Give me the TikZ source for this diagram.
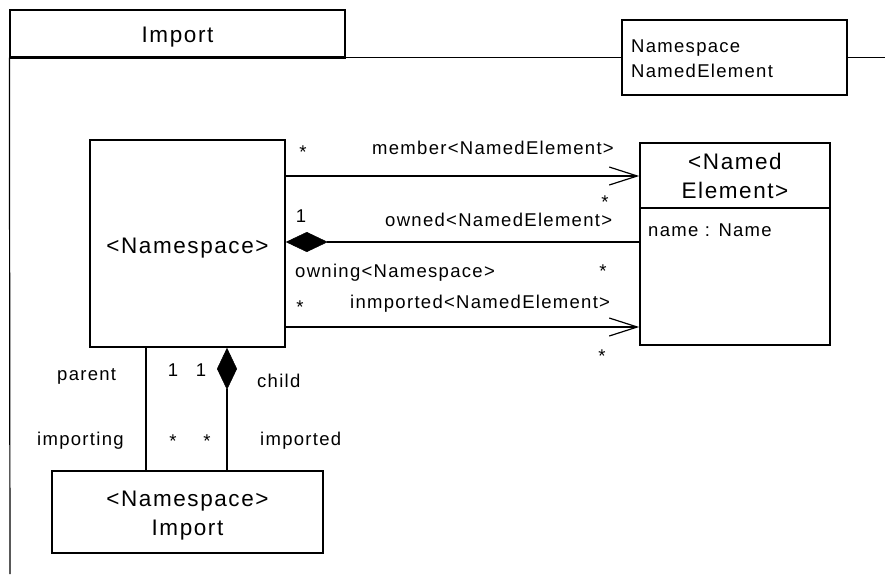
\documentclass[tikz,border=0pt]{standalone}
\usepackage{fontspec}
\setmainfont{Liberation Sans}[LetterSpace=7]
\usetikzlibrary{arrows.meta}
\begin{document}
\begin{tikzpicture}[x=1pt,y=-1pt,
  box/.style={draw, line width=1.6pt, inner sep=0pt},
  thinbox/.style={draw, line width=1.2pt, inner sep=0pt},
  conn/.style={line width=1.2pt},
  lbl/.style={inner sep=0pt, font=\fontsize{18.5}{21}\selectfont},
  big/.style={font=\fontsize{22.5}{29}\selectfont, align=center},
  barb/.style={-{Straight Barb[length=28pt,width=18pt,line width=1.2pt]}},
  comp/.style={{Diamond[length=42pt,width=20pt,fill=black,line width=0.5pt]}-}
]
\useasboundingbox (0,0) rectangle (885,574);
% frame and tab
\node[thinbox, minimum width=335pt, minimum height=47pt] (tab) at (177.5,33.5) {};
\node[big, inner sep=0pt, anchor=base] (tabtxt) at (177.5,42) {Import};
\draw[line width=2pt] (tab.south west) -- (tab.south east);
\coordinate (fb) at (10,574);
\draw[conn] (tab.south west) -- (fb);
\node[thinbox, minimum width=225pt, minimum height=75pt] (pkg) at (734.5,57.5) {};
\node[lbl, anchor=base west] (t1) at (631,52) {Namespace};
\node[lbl, anchor=base west] (t2) at (631,77) {NamedElement};
\coordinate (fr) at (885,57.5);
\draw[conn] (tab.south east |- pkg.west) -- (pkg.west);
\draw[conn] (pkg.east) -- (fr);
% classes
\node[box, minimum width=195pt, minimum height=207pt] (ns) at (187.5,243.5) {};
\node[big, inner sep=0pt, anchor=base] (nstxt) at (187.5,253) {<Namespace>};
\node[box, minimum width=190pt, minimum height=202pt] (ne) at (735,244) {};
\coordinate (dv) at (0,208);
\draw[line width=1.3pt] (ne.west |- dv) -- (ne.east |- dv);
\node[big, inner sep=0pt] (netitle) at (735,175.5) {<Named\\Element>};
\node[lbl, anchor=base west] (attr) at (648,236) {name : Name};
\node[box, minimum width=271pt, minimum height=82pt] (imp) at (187.5,512) {};
\node[big, inner sep=0pt, anchor=base] (imptxt1) at (187.5,506) {<Namespace>};
\node[big, inner sep=0pt, anchor=base] (imptxt2) at (187.5,535) {Import};
% horizontal connectors
\coordinate (ym) at (0,176);
\coordinate (yo) at (0,242);
\coordinate (yi) at (0,327);
\draw[conn,barb] (ns.east |- ym) -- (ne.west |- ym);
\draw[conn,comp] (ns.east |- yo) -- (ne.west |- yo);
\draw[conn,barb] (ns.east |- yi) -- (ne.west |- yi);
% vertical connectors
\coordinate (xp) at (146,0);
\coordinate (xc) at (227,0);
\draw[conn] (ns.south -| xp) -- (imp.north -| xp);
\draw[conn,comp] (ns.south -| xc) -- (imp.north -| xc);
% labels
\node[lbl, anchor=base] (s1) at (303,158) {*};
\node[lbl, anchor=base west] (l1) at (372,154) {member<NamedElement>};
\node[lbl, anchor=base] (s2) at (605,208) {*};
\node[lbl, anchor=base] (n1) at (301,222) {1};
\node[lbl, anchor=base west] (l2) at (385,226) {owned<NamedElement>};
\node[lbl, anchor=base west] (l3) at (295,277) {owning<Namespace>};
\node[lbl, anchor=base] (s3) at (603,277) {*};
\node[lbl, anchor=base] (s4) at (300,313) {*};
\node[lbl, anchor=base west] (l4) at (350,308) {inmported<NamedElement>};
\node[lbl, anchor=base] (s5) at (602,362) {*};
\node[lbl, anchor=base west] (l5) at (57,380) {parent};
\node[lbl, anchor=base] (n2) at (173,376) {1};
\node[lbl, anchor=base] (n3) at (201,376) {1};
\node[lbl, anchor=base west] (l6) at (257,387) {child};
\node[lbl, anchor=base west] (l7) at (37,445) {importing};
\node[lbl, anchor=base] (s6) at (173,447) {*};
\node[lbl, anchor=base] (s7) at (207,447) {*};
\node[lbl, anchor=base west] (l8) at (260,445) {imported};
\end{tikzpicture}
\end{document}
